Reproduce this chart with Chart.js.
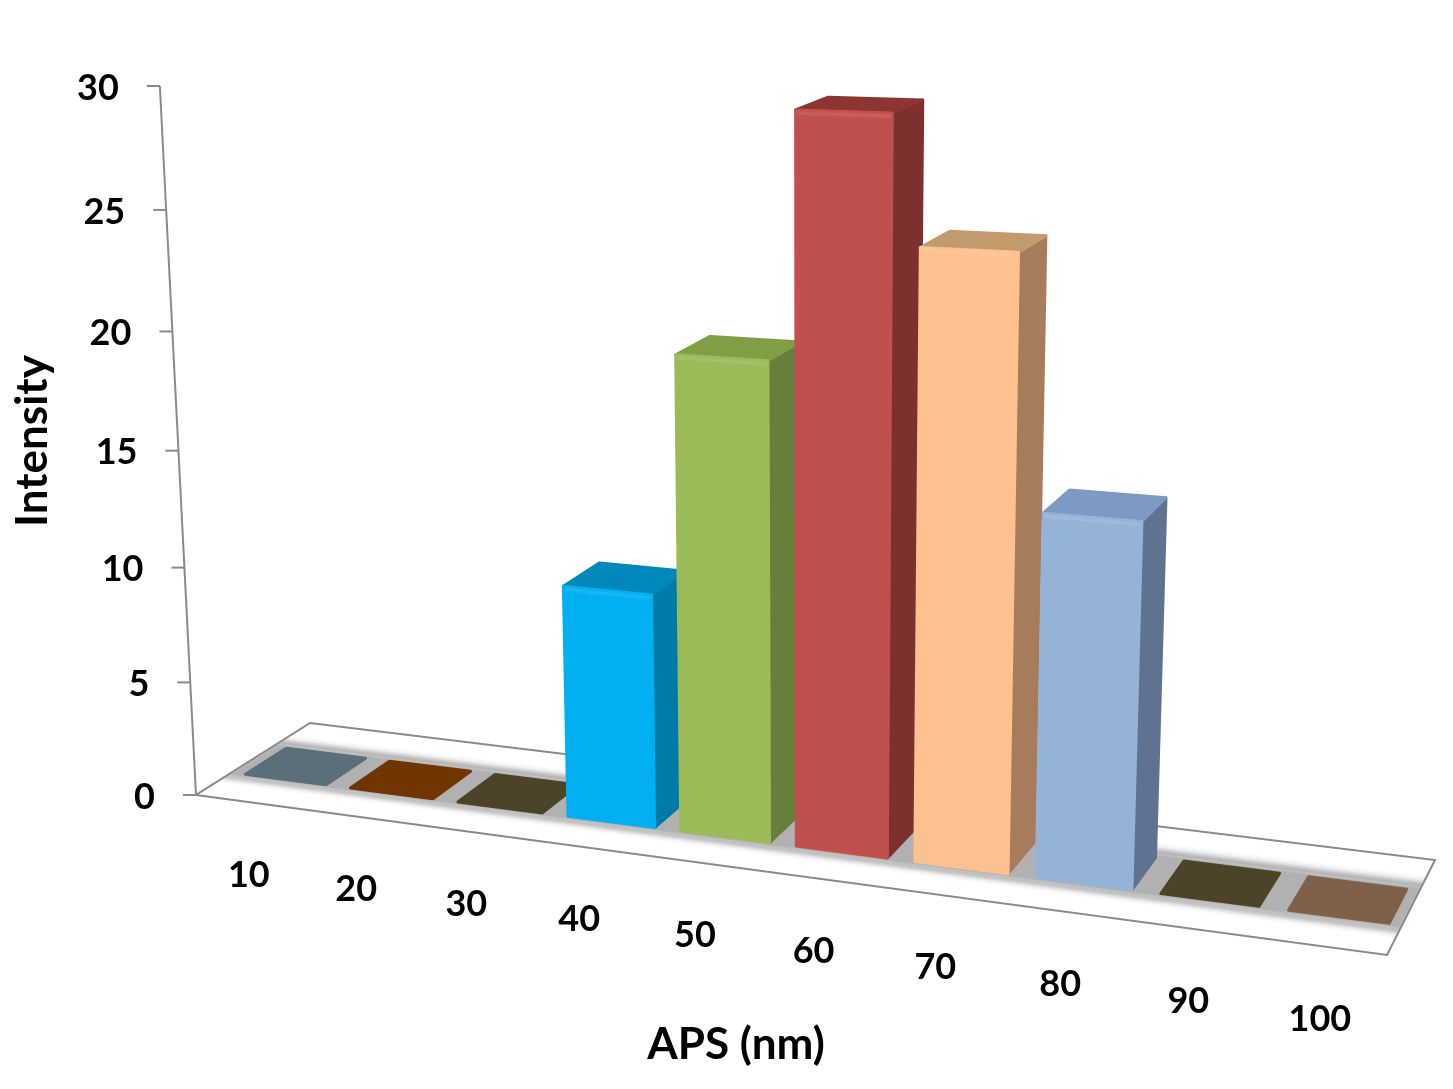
<!DOCTYPE html>
<html>
<head>
<meta charset="utf-8">
<title>Intensity vs APS</title>
<script src="https://cdn.jsdelivr.net/npm/chart.js@4"></script>
<style>
  html, body { margin: 0; padding: 0; background: #fff; }
  canvas { display: block; }
</style>
</head>
<body>
<canvas id="chart" width="1453" height="1089"></canvas>
<script>
// data
const categories = ["10", "20", "30", "40", "50", "60", "70", "80", "90", "100"];
const intensity = [0, 0, 0, 9.85, 19.7, 29.4, 24.4, 14.55, 0, 0];
const yTicks = [0, 5, 10, 15, 20, 25, 30];

// one colour per bar: front, right side, top
const frontColors = ["#5b6f78", "#703500", "#4b4428", "#00b0f0", "#9bbb59", "#c0504d", "#fdc190", "#95b3d7", "#4b4428", "#7f6048"];
const sideColors = ["#44535a", "#542800", "#38331e", "#007aa6", "#667f3a", "#7d312f", "#a67c5c", "#5f7391", "#38331e", "#5f4836"];
const topColors = ["#5b6f78", "#703500", "#4b4428", "#0088bb", "#7f9f42", "#8c3533", "#c39a6e", "#7c9ac4", "#4b4428", "#7f6048"];

// floor corners in the picture and the vanishing point of the verticals
const floorQuad = [[196, 795], [1387, 955], [1435, 860], [310, 723]];
const verticalVP = [808, 12800];
const axisTopY = 86;
const barDepth = [0.30, 0.66];
const barShift = 2.5; // px along the x scale
const xWarp = 0.034; // the picture's columns widen less than the floor corners say

const FONT = '"Lato", "Open Sans", sans-serif';

function squareToQuad(q) {
    const [x0, y0] = q[0], [x1, y1] = q[1], [x2, y2] = q[2], [x3, y3] = q[3];
    const dx1 = x1 - x2, dx2 = x3 - x2, sx = x0 - x1 + x2 - x3;
    const dy1 = y1 - y2, dy2 = y3 - y2, sy = y0 - y1 + y2 - y3;
    const den = dx1 * dy2 - dx2 * dy1;
    const g = (sx * dy2 - dx2 * sy) / den;
    const h = (dx1 * sy - sx * dy1) / den;
    return {
        a: x1 - x0 + g * x1, b: x3 - x0 + h * x3, c: x0,
        d: y1 - y0 + g * y1, e: y3 - y0 + h * y3, f: y0,
        g, h,
    };
}
const H = squareToQuad(floorQuad);
// height of the whole y range, as a weight on the vanishing point
const fullT = (axisTopY - floorQuad[0][1]) / (verticalVP[1] - axisTopY);

// chart pixel (px, py) plus depth w -> picture position
function project(area, px, py, w) {
    let u = (px - area.left) / area.width;
    u += xWarp * u * (1 - u);
    const t = fullT * (area.bottom - py) / area.height;
    const n = H.g * u + H.h * w + 1 + t;
    return [
        (H.a * u + H.b * w + H.c + t * verticalVP[0]) / n,
        (H.d * u + H.e * w + H.f + t * verticalVP[1]) / n,
    ];
}

function quad(ctx, pts, fill, stroke) {
    ctx.beginPath();
    pts.forEach((p, i) => (i ? ctx.lineTo(p[0], p[1]) : ctx.moveTo(p[0], p[1])));
    ctx.closePath();
    if (fill) {
        ctx.fillStyle = fill;
        ctx.fill();
    }
    if (stroke) {
        ctx.strokeStyle = stroke;
        ctx.stroke();
    }
}

function drawFloor(ctx, a) {
    const band = [
        [0.18, 0.20, "#f4f4f4"], [0.20, 0.22, "#e2e2e2"], [0.22, 0.24, "#c0c0c0"],
        [0.24, 0.26, "#a6a6a6"], [0.26, 0.70, "#b1b1b1"], [0.70, 0.73, "#a4a4a4"],
        [0.73, 0.75, "#a8a8a8"], [0.75, 0.77, "#cacaca"], [0.77, 0.79, "#e6e6e6"],
        [0.79, 0.81, "#f6f6f6"],
    ];
    ctx.filter = "blur(1px)";
    ctx.save();
    ctx.beginPath();
    floorQuad.forEach((p, i) => (i ? ctx.lineTo(p[0], p[1]) : ctx.moveTo(p[0], p[1])));
    ctx.closePath();
    ctx.clip();
    band.forEach(([w0, w1, color]) => {
        quad(ctx, [
            project(a, a.left, a.bottom, w0), project(a, a.right, a.bottom, w0),
            project(a, a.right, a.bottom, w1), project(a, a.left, a.bottom, w1),
        ], color, null);
    });
    ctx.restore();
    ctx.filter = "none";
    ctx.lineWidth = 2;
    quad(ctx, floorQuad, null, "#8a8a8a");
}

function drawAxis(ctx, a, yScale) {
    ctx.strokeStyle = "#8a8a8a";
    ctx.lineWidth = 2;
    const p0 = project(a, a.left, yScale.getPixelForValue(yScale.min), 0);
    const p1 = project(a, a.left, yScale.getPixelForValue(yScale.max), 0);
    ctx.beginPath();
    ctx.moveTo(p0[0], p0[1]);
    ctx.lineTo(p1[0], p1[1]);
    ctx.stroke();

    ctx.fillStyle = "#000";
    ctx.font = "bold 36px " + FONT;
    ctx.textAlign = "right";
    ctx.textBaseline = "middle";
    yScale.ticks.forEach((t) => {
        const p = project(a, a.left, yScale.getPixelForValue(t.value), 0);
        ctx.beginPath();
        ctx.moveTo(p[0], p[1]);
        ctx.lineTo(p[0] - 13, p[1]);
        ctx.stroke();
        ctx.fillText(String(t.value), p[0] - 41, p[1] + 2);
    });
}

function drawBar(ctx, a, bar, i) {
    const left = bar.x - bar.width / 2 + barShift, right = bar.x + bar.width / 2 + barShift;
    const [w0, w1] = barDepth;
    const f = project(a, left, a.bottom, w0), g = project(a, right, a.bottom, w0);
    const ft = project(a, left, bar.y, w0), gt = project(a, right, bar.y, w0);
    const hb = project(a, right, a.bottom, w1);
    const ht = project(a, right, bar.y, w1), bt = project(a, left, bar.y, w1);
    ctx.lineJoin = "round";
    ctx.lineWidth = 3;
    ctx.filter = "blur(0.6px)";
    if (intensity[i] > 0) {
        quad(ctx, [g, hb, ht, gt], sideColors[i], sideColors[i]);
    }
    quad(ctx, [ft, gt, ht, bt], topColors[i], topColors[i]);
    if (intensity[i] > 0) {
        quad(ctx, [f, g, gt, ft], frontColors[i], frontColors[i]);
        // soft bevel along the top of the front face
        ctx.filter = "blur(1.2px)";
        ctx.strokeStyle = "rgba(255,255,255,0.12)";
        ctx.lineWidth = 3;
        ctx.beginPath();
        ctx.moveTo(ft[0] + 1, ft[1] + 3);
        ctx.lineTo(gt[0] - 1, gt[1] + 3);
        ctx.stroke();
    }
    ctx.filter = "none";
}

const bars3d = {
    id: "bars3d",
    beforeDatasetsDraw(chart) {
        const ctx = chart.ctx, a = chart.chartArea;
        const xScale = chart.scales.x, yScale = chart.scales.y;
        ctx.save();
        drawFloor(ctx, a);
        drawAxis(ctx, a, yScale);
        chart.getDatasetMeta(0).data.forEach((bar, i) => drawBar(ctx, a, bar, i));

        // category labels hang a fixed distance under the floor's front edge
        ctx.fillStyle = "#000";
        ctx.font = "bold 36px " + FONT;
        ctx.textAlign = "center";
        ctx.textBaseline = "middle";
        categories.forEach((label, i) => {
            const p = project(a, xScale.getPixelForValue(i), a.bottom, 0);
            ctx.fillText(label, p[0], p[1] + 73);
        });

        // axis titles
        ctx.font = "bold 44px " + FONT;
        ctx.fillText("APS (nm)", 736, 1045);
        ctx.translate(33, 441);
        ctx.rotate(-Math.PI / 2);
        ctx.fillText("Intensity", 0, 0);
        ctx.restore();
        return false;
    },
};

new Chart(document.getElementById("chart"), {
    type: "bar",
    data: {
        labels: categories,
        datasets: [{ label: "Intensity", data: intensity, backgroundColor: frontColors }],
    },
    options: {
        responsive: false,
        animation: false,
        devicePixelRatio: 1,
        layout: { padding: 0 },
        datasets: { bar: { barPercentage: 0.77, categoryPercentage: 1 } },
        scales: {
            x: { display: false },
            y: {
                display: false,
                min: 0,
                max: 30,
                afterBuildTicks: (scale) => {
                    scale.ticks = yTicks.map((value) => ({ value }));
                },
            },
        },
        plugins: { legend: { display: false }, tooltip: { enabled: false } },
    },
    plugins: [bars3d],
});
</script>
</body>
</html>
